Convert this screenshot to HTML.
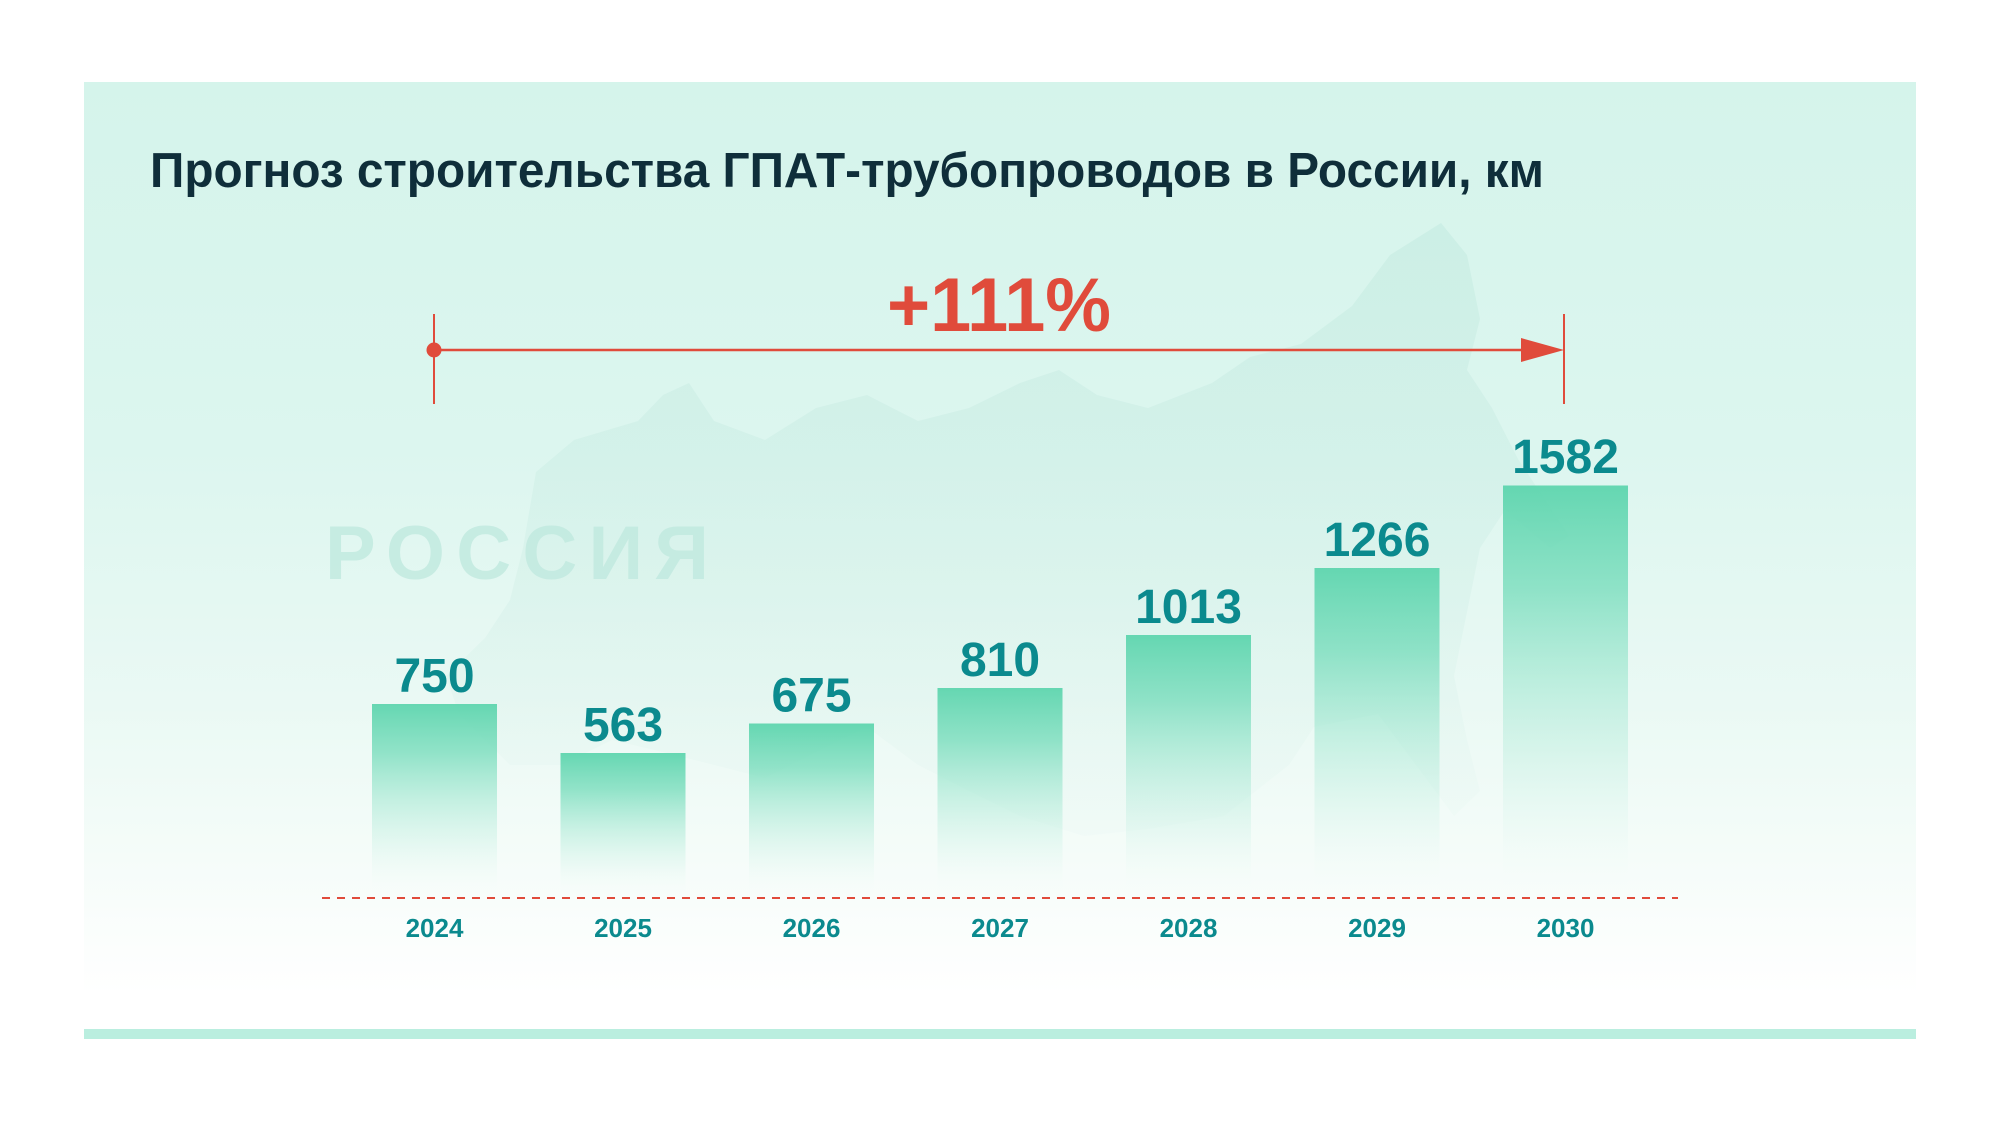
<!DOCTYPE html>
<html>
<head>
<meta charset="utf-8">
<style>
  html, body { margin: 0; padding: 0; background: #ffffff; }
  body { width: 2000px; height: 1125px; overflow: hidden; }
  svg { display: block; }
  text { font-family: "Liberation Sans", "DejaVu Sans", sans-serif; font-weight: bold; }
</style>
</head>
<body>
<svg width="2000" height="1125" viewBox="0 0 2000 1125" xmlns="http://www.w3.org/2000/svg">
  <defs>
    <linearGradient id="panelGrad" x1="0" y1="0" x2="0" y2="1">
      <stop offset="0" stop-color="#d5f4eb"/>
      <stop offset="0.4" stop-color="#dcf6ef"/>
      <stop offset="0.68" stop-color="#eaf9f4"/>
      <stop offset="0.85" stop-color="#f5fcf9"/>
      <stop offset="1" stop-color="#ffffff"/>
    </linearGradient>
    <linearGradient id="barGrad" x1="0" y1="0" x2="0" y2="1">
      <stop offset="0" stop-color="#5ed5ae" stop-opacity="0.95"/>
      <stop offset="0.25" stop-color="#72dbb9" stop-opacity="0.75"/>
      <stop offset="0.5" stop-color="#8fe3c8" stop-opacity="0.45"/>
      <stop offset="0.8" stop-color="#b5ecdb" stop-opacity="0.12"/>
      <stop offset="1" stop-color="#ffffff" stop-opacity="0"/>
    </linearGradient>
    <linearGradient id="mapGrad" x1="0" y1="0" x2="0" y2="1">
      <stop offset="0" stop-color="#b3e2d6" stop-opacity="0.32"/>
      <stop offset="0.6" stop-color="#bfe6dc" stop-opacity="0.22"/>
      <stop offset="1" stop-color="#d8efe9" stop-opacity="0.1"/>
    </linearGradient>
  </defs>

  <!-- panel -->
  <rect x="84" y="82" width="1832" height="913" fill="url(#panelGrad)"/>

  <!-- faint map silhouette -->
  <path fill="url(#mapGrad)" d="
    M536,472 L574,440 L638,421 L663,395 L689,383 L714,421 L765,440 L816,408
    L867,395 L918,421 L969,408 L1020,383 L1059,370 L1097,395 L1148,408
    L1212,383 L1250,357 L1301,344 L1352,306 L1390,255 L1441,223 L1467,255
    L1480,319 L1467,370 L1492,408 L1518,459 L1569,536 L1550,548 L1505,510
    L1480,548 L1467,612 L1454,676 L1467,740 L1480,791 L1454,816 L1416,765
    L1378,714 L1314,727 L1289,765 L1224,816 L1148,829 L1084,836 L1020,816
    L969,791 L918,765 L867,727 L816,752 L765,778 L714,765 L663,752 L612,740
    L561,765 L510,765 L459,714 L446,676 L485,638 L510,600 L523,548 Z"/>

  <!-- watermark -->
  <text x="325" y="579" font-size="76" fill="#bfe8df" fill-opacity="0.8" textLength="384" lengthAdjust="spacing">РОССИЯ</text>

  <!-- title -->
  <text x="150" y="187" font-size="49" fill="#0f2e3a" textLength="1394" lengthAdjust="spacingAndGlyphs">Прогноз строительства ГПАТ-трубопроводов в России, км</text>

  <!-- growth arrow -->
  <text x="887" y="331" font-size="76" fill="#e04b3b" textLength="224" lengthAdjust="spacingAndGlyphs">+111%</text>
  <line x1="434" y1="314" x2="434" y2="404" stroke="#e04b3b" stroke-width="2"/>
  <line x1="1564" y1="314" x2="1564" y2="404" stroke="#e04b3b" stroke-width="2"/>
  <line x1="434" y1="350" x2="1525" y2="350" stroke="#e04b3b" stroke-width="2.5"/>
  <circle cx="434" cy="350" r="7.5" fill="#e04b3b"/>
  <polygon points="1521,338 1564,350 1521,362" fill="#e04b3b"/>

  <!-- bars -->
  <rect x="372" y="704" width="125" height="196" fill="url(#barGrad)"/>
  <rect x="560.5" y="753" width="125" height="147" fill="url(#barGrad)"/>
  <rect x="749" y="723.5" width="125" height="176.5" fill="url(#barGrad)"/>
  <rect x="937.5" y="688" width="125" height="212" fill="url(#barGrad)"/>
  <rect x="1126" y="635" width="125" height="265" fill="url(#barGrad)"/>
  <rect x="1314.5" y="568" width="125" height="332" fill="url(#barGrad)"/>
  <rect x="1503" y="485.5" width="125" height="414.5" fill="url(#barGrad)"/>

  <!-- value labels -->
  <g font-size="48" fill="#0b8a8e" text-anchor="middle">
    <text x="434.5" y="692">750</text>
    <text x="623" y="741">563</text>
    <text x="811.5" y="711.5">675</text>
    <text x="1000" y="676">810</text>
    <text x="1188.5" y="623">1013</text>
    <text x="1377" y="556">1266</text>
    <text x="1565.5" y="473">1582</text>
  </g>

  <!-- baseline -->
  <line x1="322" y1="898" x2="1678" y2="898" stroke="#e04b3b" stroke-width="2" stroke-dasharray="8 7"/>

  <!-- years -->
  <g font-size="26" fill="#0b8a8e" text-anchor="middle">
    <text x="434.5" y="937">2024</text>
    <text x="623" y="937">2025</text>
    <text x="811.5" y="937">2026</text>
    <text x="1000" y="937">2027</text>
    <text x="1188.5" y="937">2028</text>
    <text x="1377" y="937">2029</text>
    <text x="1565.5" y="937">2030</text>
  </g>

  <!-- bottom strip -->
  <rect x="84" y="1029" width="1832" height="10" fill="#baeedf"/>
</svg>
</body>
</html>
